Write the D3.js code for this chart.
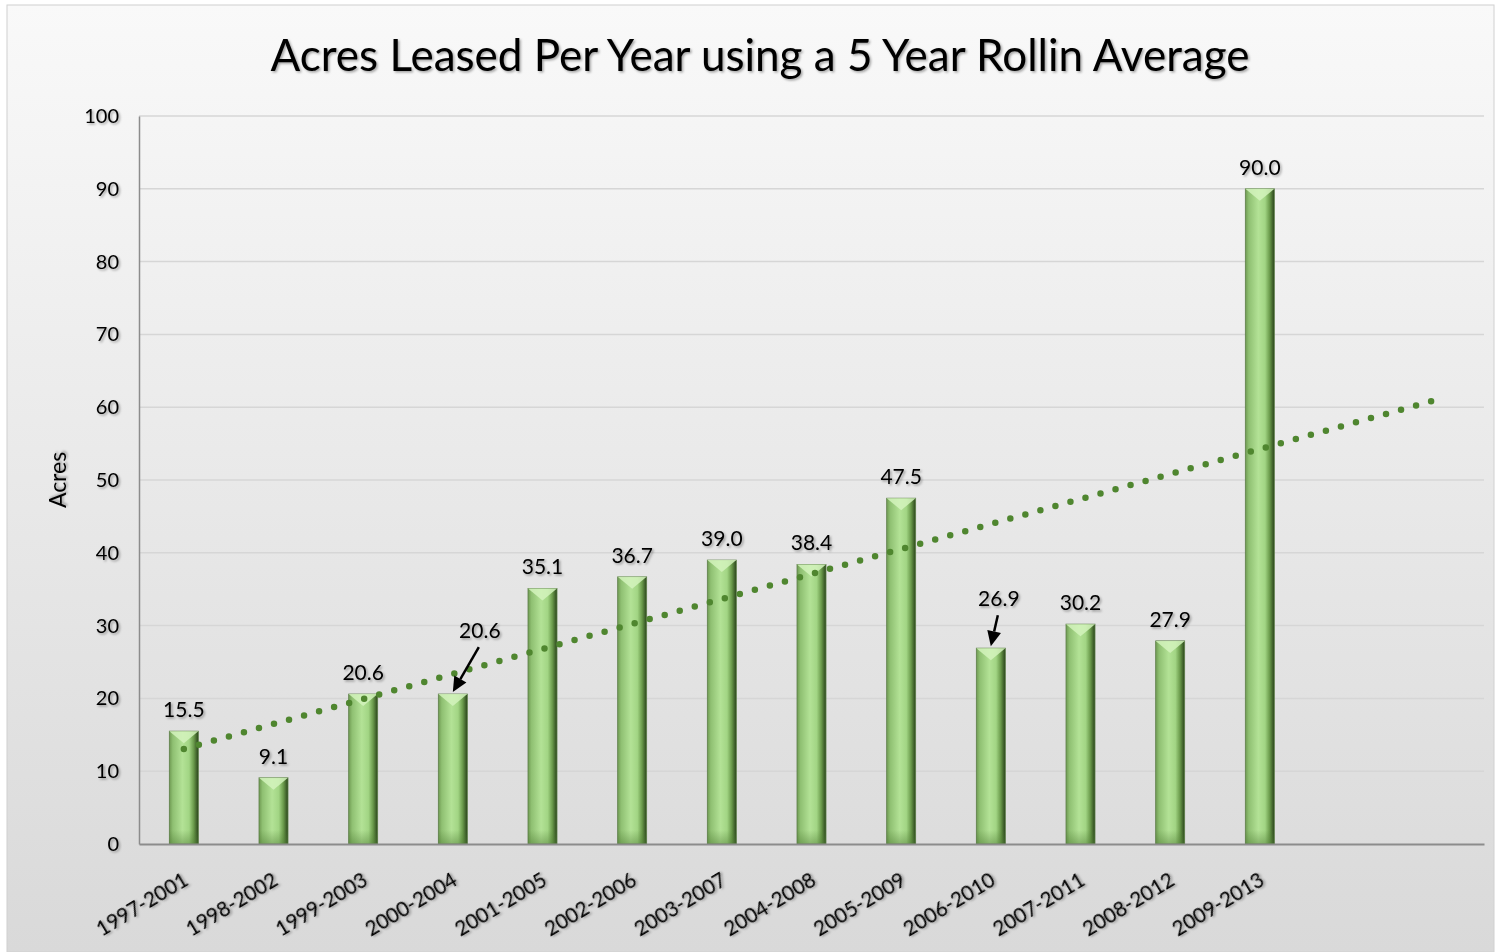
<!DOCTYPE html>
<html>
<head>
<meta charset="utf-8">
<script src="https://cdn.jsdelivr.net/npm/d3@7"></script>
<style>
  body { margin: 0; background: #fff; }
  svg { display: block; font-family: Lato, "Open Sans", sans-serif; }
</style>
</head>
<body>
<svg id="chart" width="1501" height="952"></svg>
<script>
// data
var periods = ["1997-2001","1998-2002","1999-2003","2000-2004","2001-2005","2002-2006",
               "2003-2007","2004-2008","2005-2009","2006-2010","2007-2011","2008-2012","2009-2013"];
var acres = [15.5, 9.1, 20.6, 20.6, 35.1, 36.7, 39.0, 38.4, 47.5, 26.9, 30.2, 27.9, 90.0];
var yTicks = [0,10,20,30,40,50,60,70,80,90,100];
var forwardPeriods = 2;             // trendline forecast forward
var arrowLabels = ["2000-2004", "2006-2010"]; // labels moved off and pointed at with an arrow

var width = 1501, height = 952;
var margin = {left: 139, right: 17, top: 116, bottom: 108};

var svg = d3.select("#chart");
var defs = svg.append("defs");

// background
var bg = defs.append("linearGradient").attr("id","bg").attr("x1",0).attr("y1",0).attr("x2",0).attr("y2",1);
bg.append("stop").attr("offset","0%").attr("stop-color","#f9f9f9");
bg.append("stop").attr("offset","100%").attr("stop-color","#d9d9d9");

svg.append("rect").attr("x",0).attr("y",0).attr("width",width).attr("height",height).attr("fill","#fff");
svg.append("rect")
    .attr("x",7).attr("y",5).attr("width",width-14).attr("height",height-5)
    .attr("fill","url(#bg)").attr("stroke","#d0d0d0");

// text shadow
var sh = defs.append("filter").attr("id","shadow").attr("x","-20%").attr("y","-20%").attr("width","140%").attr("height","160%");
sh.append("feDropShadow").attr("dx",1.5).attr("dy",1.5).attr("stdDeviation",1).attr("flood-color","#000").attr("flood-opacity",0.35);

// bar fill
var bar = defs.append("linearGradient").attr("id","barGrad").attr("x1",0).attr("y1",0).attr("x2",1).attr("y2",0);
[["0%","#6f9a52"],["12%","#8fc072"],["45%","#b3e296"],["68%","#a2d584"],["84%","#6a9a4b"],["100%","#29431a"]]
  .forEach(function(s){ bar.append("stop").attr("offset",s[0]).attr("stop-color",s[1]); });
var barBot = defs.append("linearGradient").attr("id","barBot").attr("x1",0).attr("y1",0).attr("x2",0).attr("y2",1);
barBot.append("stop").attr("offset","0%").attr("stop-color","#4d7a33").attr("stop-opacity",0);
barBot.append("stop").attr("offset","100%").attr("stop-color","#4d7a33").attr("stop-opacity",0.45);

var nSlots = periods.length + forwardPeriods;
var slotNames = periods.slice();
for (var i = 0; i < forwardPeriods; i++) slotNames.push("f" + i);

var x = d3.scaleBand().domain(slotNames).range([margin.left, width - margin.right]).paddingInner(0.68).paddingOuter(0.34);
var y = d3.scaleLinear().domain([0,100]).range([844, margin.top]);
var slot = (width - margin.right - margin.left) / nSlots;
var cx = function(i){ return margin.left + slot * (i + 0.5); };

// gridlines
svg.append("g").selectAll("line").data(yTicks.slice(1)).enter().append("line")
    .attr("x1", margin.left).attr("x2", width - margin.right)
    .attr("y1", d => y(d)).attr("y2", d => y(d))
    .attr("stroke","#d6d6d6").attr("stroke-width",1.5);

// y axis
var yAxis = svg.append("g").attr("transform","translate(" + margin.left + ",0)")
    .call(d3.axisLeft(y).tickValues(yTicks).tickSize(0).tickPadding(20));
yAxis.select(".domain").attr("stroke","#8c8c8c").attr("stroke-width",1.5);
yAxis.selectAll("text").attr("font-size",20).attr("fill","#000").attr("filter","url(#shadow)")
    .attr("font-family","Lato, sans-serif");

// bars
var bw = 29;
var bars = svg.append("g").selectAll("g").data(acres).enter().append("g")
    .attr("transform", (d,i) => "translate(" + (cx(i) - bw/2) + ",0)");
bars.append("rect")
    .attr("x",0).attr("width",bw)
    .attr("y", d => y(d)).attr("height", d => y(0) - y(d))
    .attr("fill","url(#barGrad)").attr("stroke","#5e7f4a").attr("stroke-width",0.8);
bars.append("rect")
    .attr("x",0).attr("width",bw)
    .attr("y", d => Math.max(y(d), y(0) - 14)).attr("height", d => Math.min(14, y(0) - y(d)))
    .attr("fill","url(#barBot)");
// bevel on top
bars.append("path")
    .attr("d", d => "M0," + y(d) + "L" + bw + "," + y(d) + "L" + (bw/2) + "," + (y(d) + Math.min(12, (y(0)-y(d))/2)) + "Z")
    .attr("fill","#d4f3bd").attr("opacity",0.85);

// x axis
var xAxis = svg.append("g").attr("transform","translate(0," + y(0) + ")")
    .call(d3.axisBottom(x).tickSize(0).tickFormat(""));
xAxis.select(".domain").attr("stroke","#8c8c8c").attr("stroke-width",2);
xAxis.selectAll(".tick").remove();

svg.append("g").selectAll("text").data(periods).enter().append("text")
    .attr("transform", (d,i) => "translate(" + (cx(i) + 6) + "," + (y(0) + 40) + ") rotate(-31)")
    .attr("text-anchor","end")
    .attr("font-size",20.5).attr("filter","url(#shadow)")
    .text(d => d);

// trendline (linear fit of the bars, forecast forward)
var xs = acres.map((d,i) => i + 1);
var mx = d3.mean(xs), my = d3.mean(acres);
var slope = d3.sum(xs, (v,i) => (v - mx) * (acres[i] - my)) / d3.sum(xs, v => (v - mx) * (v - mx));
var icpt = my - slope * mx;
var trend = [1, nSlots].map(v => [cx(v - 1), y(icpt + slope * v)]);
svg.append("path")
    .attr("d", d3.line()(trend))
    .attr("stroke","#4f862f").attr("stroke-width",6.5)
    .attr("stroke-linecap","round").attr("stroke-dasharray","0 15.6")
    .attr("fill","none");

// data labels
var lab = svg.append("g").attr("font-size",21).attr("text-anchor","middle").attr("filter","url(#shadow)");
acres.forEach(function(v,i){
  var moved = arrowLabels.indexOf(periods[i]) >= 0;
  var dx = moved ? (i === 3 ? 27 : 8) : 0;
  var dy = moved ? (i === 3 ? -56 : -42) : -14;
  lab.append("text").attr("x", cx(i) + dx).attr("y", y(v) + dy).text(v.toFixed(1));
  if (moved) {
    var x1 = cx(i) + dx - 1, y1 = y(v) + dy + 9;
    var x2 = cx(i), y2 = y(v) - 2;
    var a = Math.atan2(y2 - y1, x2 - x1);
    var hl = 15, hw = 7;
    var bx = x2 - hl * Math.cos(a), by = y2 - hl * Math.sin(a);
    svg.append("line").attr("x1",x1).attr("y1",y1).attr("x2",bx).attr("y2",by)
        .attr("stroke","#000").attr("stroke-width",2.5);
    svg.append("path")
        .attr("d","M" + x2 + "," + y2 + "L" + (bx + hw*Math.sin(a)) + "," + (by - hw*Math.cos(a)) +
                  "L" + (bx - hw*Math.sin(a)) + "," + (by + hw*Math.cos(a)) + "Z")
        .attr("fill","#000");
  }
});

// y title
svg.append("text")
    .attr("transform","translate(66,480) rotate(-90)")
    .attr("text-anchor","middle").attr("font-size",23).attr("filter","url(#shadow)")
    .text("Acres");

// chart title
svg.append("text")
    .attr("x", 760).attr("y", 71)
    .attr("text-anchor","middle").attr("font-size",44).attr("filter","url(#shadow)")
    .text("Acres Leased Per Year using a 5 Year Rollin Average");
</script>
</body>
</html>
